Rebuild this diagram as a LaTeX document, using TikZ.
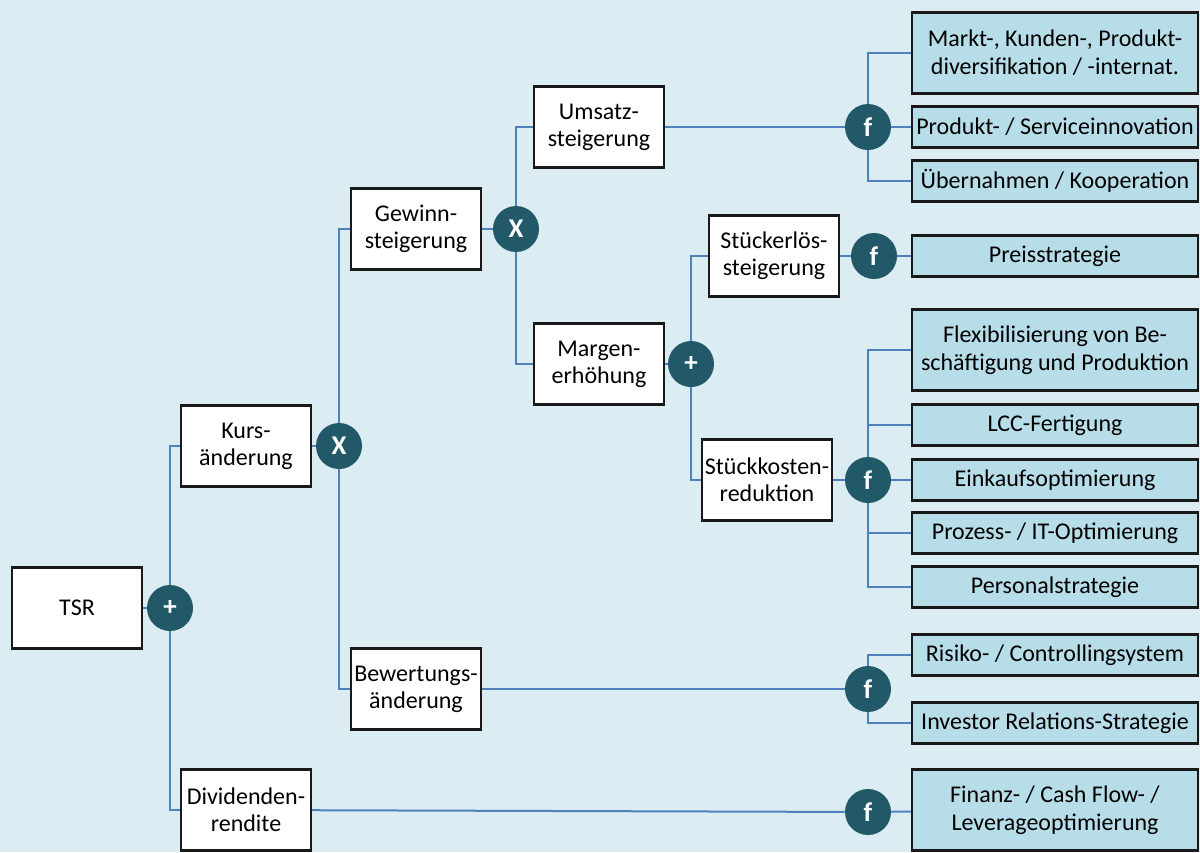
\documentclass[tikz,border=0pt]{standalone}
\usepackage{fontspec}
\setmainfont{Carlito}
\usepackage{tikz}
\usetikzlibrary{positioning}
\usepackage{xcolor}
\definecolor{tsrback}{RGB}{219,236,243}
\definecolor{tsrteal}{RGB}{33,89,104}
\definecolor{tsrline}{RGB}{79,129,189}
\definecolor{tsrlever}{RGB}{183,221,232}
\tikzstyle{link} = [line width=1pt, color=tsrline]

\begin{document}
\begin{tikzpicture}[x=0.5pt, y=-0.5pt,
    metric/.style={rectangle, draw=black!90, fill=white, line width=1.1pt, minimum width=65pt, minimum height=40.5pt, align=center, inner sep=1pt, font=\fontsize{12}{13.5}\selectfont},
    op/.style={circle, fill=tsrteal, minimum size=23pt, inner sep=0pt, text=white, font=\fontsize{13.5}{14}\selectfont\bfseries},
    lever/.style={rectangle, draw=black!90, fill=tsrlever, line width=1.1pt, minimum width=143pt, minimum height=20.5pt, align=center, inner sep=1pt, font=\fontsize{12}{14}\selectfont}]

% Background
\fill[tsrback] (0,0) rectangle (1200,852);
\useasboundingbox (0,0) rectangle (1200,852);

% Value driver tree
\node[metric] (tsr) at (77,608) {TSR};
\node[op] (plus1) at (170,608) {+};

\node[metric] (kurs) at (246,446) {Kurs-\\änderung};
\node[op] (x1) at (339,446) {X};
\node[metric] (div) at (246,810) {Dividenden-\\rendite};

\node[metric] (gewinn) at (416,229) {Gewinn-\\steigerung};
\node[op] (x2) at (516,229) {X};
\node[metric] (bewertung) at (416,689) {Bewertungs-\\änderung};

\node[metric] (umsatz) at (599,127) {Umsatz-\\steigerung};
\node[metric] (margen) at (599,364) {Margen-\\erhöhung};
\node[op] (plus2) at (691,364) {+};

\node[metric] (erloes) at (774,256) {Stückerlös-\\steigerung};
\node[metric] (kosten) at (767,480) {Stückkosten-\\reduktion};

% Operator circles for levers
\node[op] (f1) at (868,127) {f};
\node[op] (f2) at (874,256) {f};
\node[op] (f3) at (868,480) {f};
\node[op] (f4) at (868,689) {f};
\node[op] (f5) at (868,812) {f};

% Levers
\node[lever, minimum height=40.5pt] (markt) at (1055,53) {Markt-, Kunden-, Produkt-\\diversifikation / -internat.};
\node[lever] (produkt) at (1055,127) {Produkt- / Serviceinnovation};
\node[lever] (uebernahme) at (1055,181) {Übernahmen / Kooperation};
\node[lever] (preis) at (1055,256) {Preisstrategie};
\node[lever, minimum height=40.5pt] (flex) at (1055,350) {Flexibilisierung von Be-\\schäftigung und Produktion};
\node[lever] (lcc) at (1055,425) {LCC-Fertigung};
\node[lever] (einkauf) at (1055,480) {Einkaufsoptimierung};
\node[lever] (prozess) at (1055,533) {Prozess- / IT-Optimierung};
\node[lever] (personal) at (1055,587) {Personalstrategie};
\node[lever] (risiko) at (1055,655) {Risiko- / Controllingsystem};
\node[lever] (investor) at (1055,723) {Investor Relations-Strategie};
\node[lever, minimum height=40.5pt] (finanz) at (1055,810) {Finanz- / Cash Flow- /\\Leverageoptimierung};

% Connections
\draw[link] (tsr) -- (plus1);
\draw[link] (plus1) |- (kurs);
\draw[link] (plus1) |- (div);

\draw[link] (kurs) -- (x1);
\draw[link] (x1) |- (gewinn);
\draw[link] (x1) |- (bewertung);

\draw[link] (gewinn) -- (x2);
\draw[link] (x2) |- (umsatz);
\draw[link] (x2) |- (margen);

\draw[link] (margen) -- (plus2);
\draw[link] (plus2) |- (erloes);
\draw[link] (plus2) |- (kosten);

\draw[link] (umsatz) -- (f1);
\draw[link] (f1) |- (markt);
\draw[link] (f1) -- (produkt);
\draw[link] (f1) |- (uebernahme);

\draw[link] (erloes) -- (f2);
\draw[link] (f2) -- (preis);

\draw[link] (kosten) -- (f3);
\draw[link] (f3) |- (flex);
\draw[link] (f3) |- (lcc);
\draw[link] (f3) -- (einkauf);
\draw[link] (f3) |- (prozess);
\draw[link] (f3) |- (personal);

\draw[link] (bewertung) -- (f4);
\draw[link] (f4) |- (risiko);
\draw[link] (f4) |- (investor);

\draw[link] (div) -- (f5);
\draw[link] (f5) -- (finanz);
\end{tikzpicture}
\end{document}
